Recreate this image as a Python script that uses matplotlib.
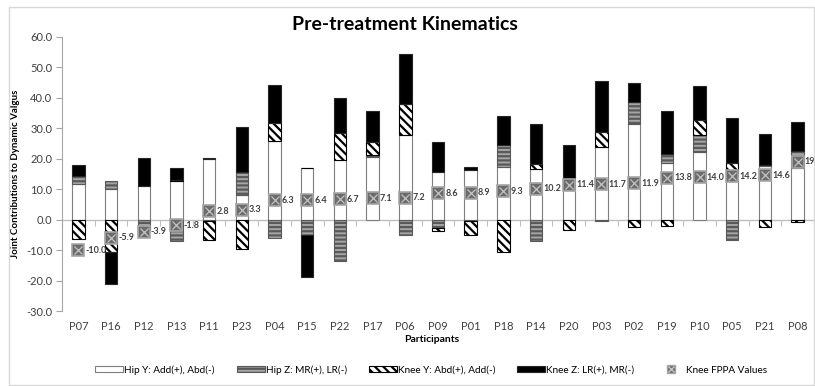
import numpy as np
import matplotlib
matplotlib.use('Agg')
import matplotlib.pyplot as plt
from matplotlib.patches import Patch, Rectangle
from matplotlib.lines import Line2D

plt.rcParams['font.family'] = ['Lato', 'DejaVu Sans']
plt.rcParams['hatch.linewidth'] = 1.6

participants = ['P07', 'P16', 'P12', 'P13', 'P11', 'P23', 'P04', 'P15', 'P22', 'P17', 'P06', 'P09',
                'P01', 'P18', 'P14', 'P20', 'P03', 'P02', 'P19', 'P10', 'P05', 'P21', 'P08']
hip_y = [11.8, 10.2, 10.9, 12.8, 19.8, 8.0, 25.9, 17.1, 19.7, 20.5, 27.8, 15.6,
         16.4, 17.3, 16.7, 13.3, 23.8, 31.5, 18.6, 22.2, 15.3, 17.6, 16.9]
hip_z = [2.6, 2.6, -2.0, -6.9, -0.6, 7.6, -6.0, -5.2, -13.7, 0.6, -4.9, -2.7,
         -0.4, 7.1, -6.9, 0.0, -0.4, 7.0, 2.9, 5.7, -6.6, 0.4, 5.5]
knee_y = [-6.2, -10.6, -1.3, 0.3, -6.2, -9.6, 6.0, 0.0, 8.7, 4.4, 10.1, -0.9,
          -4.6, -10.6, 1.6, -3.5, 4.9, -2.5, -2.0, 4.7, 3.3, -2.5, -0.8]
knee_z = [3.6, -10.4, 9.5, 3.8, 0.4, 15.0, 12.4, -13.6, 11.5, 10.2, 16.4, 9.9,
          0.8, 9.5, 13.2, 11.1, 16.7, 6.5, 14.3, 11.3, 14.7, 10.1, 9.8]
fppa = [-10.0, -5.9, -3.9, -1.8, 2.8, 3.3, 6.3, 6.4, 6.7, 7.1, 7.2, 8.6,
        8.9, 9.3, 10.2, 11.4, 11.7, 11.9, 13.8, 14.0, 14.2, 14.6, 19.1]

series = [hip_y, hip_z, knee_y, knee_z]
names = ['Hip Y: Add(+), Abd(-)', 'Hip Z: MR(+), LR(-)', 'Knee Y: Abd(+), Add(-)', 'Knee Z: LR(+), MR(-)']
styles = [dict(color='white', edgecolor='#7f7f7f', hatch=None),
          dict(color='#a6a6a6', edgecolor='#595959', hatch='----'),
          dict(color='white', edgecolor='black', hatch='\\\\\\\\'),
          dict(color='black', edgecolor='#262626', hatch=None)]

fig = plt.figure(figsize=(8.15, 3.86), dpi=100)
ax = fig.add_axes([62/815, 1-311/386, 752/815, (311-37)/386])

x = np.arange(len(participants))
pos_base = np.zeros(len(x))
neg_base = np.zeros(len(x))
for vals, st in zip(series, styles):
    v = np.array(vals)
    bottoms = np.where(v >= 0, pos_base, neg_base)
    ax.bar(x, v, width=0.38, bottom=bottoms, color=st['color'], edgecolor=st['edgecolor'],
           hatch=st['hatch'], linewidth=0.8, zorder=2)
    pos_base = pos_base + np.where(v >= 0, v, 0)
    neg_base = neg_base + np.where(v < 0, v, 0)

ax.plot(x, fppa, ls='none', marker='s', ms=8, mfc='#6b6b6b', mec='#a6a6a6', mew=1.2, zorder=4)
ax.plot(x, fppa, ls='none', marker='x', ms=6, mec='#c4c4c4', mew=0.9, zorder=5)
for xi, v in zip(x, fppa):
    ax.text(xi + 0.22, v, '%.1f' % v, fontsize=6.5, fontweight='bold', color='#404040',
            va='center', ha='left', zorder=3)

ax.set_xlim(-0.5, len(x) - 0.5)
ax.set_ylim(-30, 60)
ax.set_yticks(np.arange(-30, 61, 10))
ax.set_yticklabels(['%.1f' % t for t in np.arange(-30, 61, 10)], fontsize=8, color='#404040')
ax.set_xticks(x)
ax.set_xticklabels(participants, fontsize=8, color='#404040')
ax.tick_params(axis='x', length=0, pad=7)
ax.tick_params(axis='y', length=4, color='#a6a6a6', direction='out', pad=3)
for s in ['top', 'right', 'bottom']:
    ax.spines[s].set_visible(False)
ax.spines['left'].set_color('#a6a6a6')

# zero line with category separator ticks
ax.axhline(0, color='#bfbfbf', lw=1.0, zorder=1)
sec = ax.secondary_xaxis(30/90)
sec.set_xticks(np.arange(-0.5, len(x), 1.0))
sec.set_xticklabels([])
sec.tick_params(length=4, color='#bfbfbf', direction='out')
sec.spines['bottom'].set_visible(False)

ax.set_ylabel('Joint Contributions to Dynamic Valgus', fontsize=7, fontweight='bold', labelpad=4)
fig.text(432/815, 1-339/386, 'Participants', fontsize=7.5, fontweight='bold', ha='center', va='center')
fig.text(405/815, 1-24/386, 'Pre-treatment Kinematics', fontsize=14, fontweight='bold', ha='center', va='center')

handles = [Patch(facecolor=st['color'], edgecolor=st['edgecolor'], hatch=st['hatch'], linewidth=0.8)
           for st in styles]
mk = (Line2D([], [], ls='none', marker='s', ms=6, mfc='#6b6b6b', mec='#a6a6a6'),
      Line2D([], [], ls='none', marker='x', ms=4, mec='#c4c4c4'))
handles.append(mk)
fig.legend(handles, names + ['Knee FPPA Values'], loc='center', bbox_to_anchor=(431/815, 1-370/386),
           ncol=5, frameon=False, fontsize=7.2, handlelength=2.8, handleheight=0.55, columnspacing=2.2,
           handletextpad=0.1)

fig.patches.append(Rectangle((9/815, 1/386), 1-10/815, 1-8/386, transform=fig.transFigure,
                             fill=False, edgecolor='#d9d9d9', lw=1))
fig.savefig('out.png', dpi=100)
